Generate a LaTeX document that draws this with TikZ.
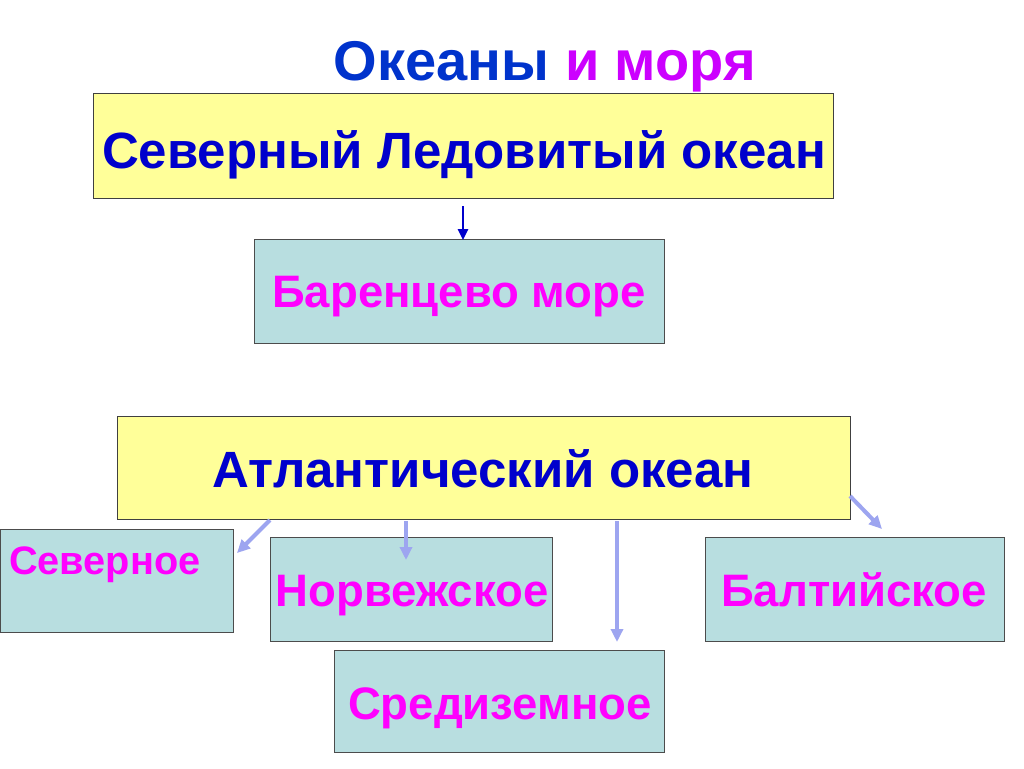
\documentclass[tikz,border=0pt]{standalone}
\usepackage{fontspec}
\setmainfont{Liberation Sans}
\usetikzlibrary{arrows.meta}
\definecolor{titleblue}{HTML}{0033CC}
\definecolor{titlemag}{HTML}{CC00FF}
\definecolor{textblue}{HTML}{0000CC}
\definecolor{textmag}{HTML}{FF00FF}
\definecolor{yellowfill}{HTML}{FFFF99}
\definecolor{bluefill}{HTML}{B8DEE0}
\definecolor{arrowlav}{HTML}{9DA5F0}
\definecolor{arrowdark}{HTML}{0000CC}
\begin{document}
\begin{tikzpicture}[x=1pt,y=-1pt,
  ybox/.style={draw=black!75,line width=1pt,fill=yellowfill,inner sep=0pt},
  bbox/.style={draw=black!70,line width=1pt,fill=bluefill,inner sep=0pt},
  btext/.style={font=\fontsize{51}{56}\bfseries\selectfont,text=textblue,anchor=base,inner sep=0pt},
  mtext/.style={font=\fontsize{45.5}{50}\bfseries\selectfont,text=textmag,anchor=base,inner sep=0pt},
  lavarrow/.style={draw=arrowlav,line width=4pt,-{Triangle[length=13pt,width=12pt]}},
  darrow/.style={draw=arrowdark,line width=2.5pt,-{Triangle[length=11pt,width=10pt]}}]
\useasboundingbox (0,0) rectangle (1024,768);
\fill[white] (0,0) rectangle (1024,768);
\node[font=\fontsize{56}{60}\bfseries\selectfont,anchor=base,inner sep=0pt] (title) at (545,80) {\textcolor{titleblue}{Океаны} \textcolor{titlemag}{и моря}};
\draw[ybox] (93,93) rectangle (833,198);
\node[btext] (arctic) at (464,168) {Северный Ледовитый океан};
\draw[bbox] (254,239) rectangle (664,343);
\node[mtext] (barents) at (459,307) {Баренцево море};
\draw[ybox] (117,416) rectangle (850,519);
\node[btext] (atl) at (483,487) {Атлантический океан};
\draw[bbox] (0,529) rectangle (233,632);
\node[mtext,font=\fontsize{39.7}{44}\bfseries\selectfont,anchor=base west] (sev) at (9,574) {Северное};
\draw[bbox] (270,537) rectangle (552,641);
\node[mtext] (norv) at (412,606) {Норвежское};
\draw[bbox] (705,537) rectangle (1004,641);
\node[mtext] (balt) at (854,606) {Балтийское};
\draw[bbox] (334,650) rectangle (664,752);
\node[mtext] (sred) at (500,719) {Средиземное};
\coordinate (a1s) at (463,206);
\coordinate (a1e) at (463,240);
\coordinate (s1) at (270,520);
\coordinate (e1) at (237,553);
\coordinate (s2) at (406,521);
\coordinate (e2) at (406,560);
\coordinate (s3) at (617,521);
\coordinate (e3) at (617,642);
\coordinate (s4) at (850,496);
\coordinate (e4) at (882,529);
\draw[darrow] (a1s) -- (a1e);
\draw[lavarrow] (s1) -- (e1);
\draw[lavarrow] (s2) -- (e2);
\draw[lavarrow] (s3) -- (e3);
\draw[lavarrow] (s4) -- (e4);
\end{tikzpicture}
\end{document}
